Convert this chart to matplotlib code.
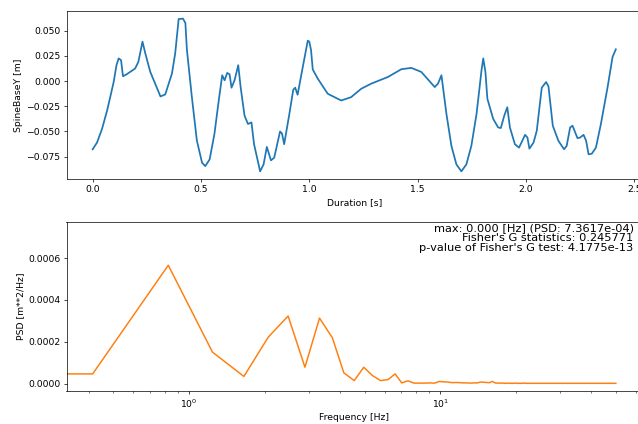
import numpy as np
import matplotlib
matplotlib.use("Agg")
import matplotlib.pyplot as plt
from matplotlib.ticker import MultipleLocator

# SpineBaseY (time [s], value [m])
time_s = [0.0, 0.02, 0.043, 0.067, 0.097, 0.110, 0.120, 0.131, 0.140, 0.157,
          0.196, 0.211, 0.230, 0.243, 0.266, 0.313, 0.335, 0.366, 0.381, 0.397,
          0.417, 0.428, 0.435, 0.458, 0.481, 0.505, 0.520, 0.540, 0.562, 0.582,
          0.598, 0.609, 0.621, 0.632, 0.641, 0.655, 0.672, 0.683, 0.701, 0.717,
          0.733, 0.745, 0.773, 0.789, 0.804, 0.823, 0.838, 0.865, 0.874, 0.884,
          0.908, 0.926, 0.935, 0.946, 0.970, 0.993, 1.0, 1.008, 1.016, 1.039,
          1.085, 1.147, 1.193, 1.240, 1.286, 1.363, 1.425, 1.471, 1.517, 1.579,
          1.594, 1.610, 1.633, 1.656, 1.679, 1.702, 1.725, 1.748, 1.772, 1.795,
          1.803, 1.813, 1.822, 1.849, 1.872, 1.884, 1.900, 1.914, 1.926, 1.949,
          1.968, 1.983, 1.996, 2.007, 2.016, 2.035, 2.050, 2.073, 2.093, 2.104,
          2.124, 2.150, 2.176, 2.188, 2.204, 2.215, 2.238, 2.250, 2.266, 2.278,
          2.289, 2.304, 2.323, 2.346, 2.377, 2.400, 2.415]
spine_y = [-0.0676, -0.061, -0.0476, -0.029, -0.001, 0.0157, 0.0224, 0.0207, 0.0047, 0.0067,
           0.0124, 0.019, 0.039, 0.0274, 0.009, -0.0153, -0.0133, 0.0074, 0.0274, 0.0614,
           0.0618, 0.0574, 0.031, -0.016, -0.059, -0.081, -0.0843, -0.0776, -0.0526, -0.0193,
           0.0057, 0.0007, 0.008, 0.0067, -0.0066, 0.0007, 0.0157, -0.006, -0.0343, -0.0426,
           -0.041, -0.0626, -0.0895, -0.0826, -0.0653, -0.0786, -0.076, -0.050, -0.052, -0.0626,
           -0.0326, -0.0086, -0.0066, -0.0136, 0.014, 0.040, 0.039, 0.0307, 0.0114, 0.0024,
           -0.0126, -0.0193, -0.016, -0.0076, -0.0026, 0.004, 0.0117, 0.013, 0.009, -0.006,
           -0.0026, 0.0057, -0.0326, -0.0643, -0.0826, -0.0895, -0.0826, -0.0643, -0.0326, 0.0107,
           0.0224, 0.009, -0.0176, -0.0376, -0.046, -0.0466, -0.0343, -0.026, -0.046, -0.0626,
           -0.066, -0.0593, -0.0533, -0.056, -0.067, -0.061, -0.0493, -0.0066, -0.001, -0.0053,
           -0.0443, -0.0593, -0.0676, -0.0643, -0.046, -0.0443, -0.0566, -0.056, -0.0533, -0.0593,
           -0.0726, -0.072, -0.066, -0.0426, -0.006, 0.024, 0.0314]

# PSD values, one per frequency bin (fs = 100 Hz, 242 samples)
psd = [7.3617e-04, 4.6e-05, 5.66e-04, 1.50e-04, 3.4e-05, 2.22e-04, 3.23e-04, 7.8e-05,
       3.13e-04, 2.19e-04, 5.1e-05, 1.4e-05, 7.8e-05, 3.8e-05, 1.4e-05, 1.9e-05,
       4.6e-05, 3e-06, 1.3e-05, 2e-06, 2e-06, 2e-06, 3e-06, 2e-06,
       1.0e-05, 8e-06, 7e-06, 4e-06, 5e-06, 4e-06, 3e-06, 3e-06,
       2e-06, 3e-06, 3e-06, 7e-06, 6e-06, 5e-06, 4e-06, 1.0e-05,
       3e-06, 2e-06, 2e-06, 2e-06, 1e-06, 2e-06, 1e-06, 1e-06,
       2e-06, 1e-06, 1e-06, 1e-06, 2e-06, 1e-06, 1e-06, 1e-06,
       1e-06, 1e-06, 1e-06, 1e-06, 1e-06, 1e-06, 1e-06, 1e-06,
       1e-06, 1e-06, 1e-06, 1e-06, 1e-06, 1e-06, 1e-06, 1e-06,
       1e-06, 1e-06, 1e-06, 1e-06, 1e-06, 1e-06, 1e-06, 1e-06,
       1e-06, 1e-06, 1e-06, 1e-06, 1e-06, 1e-06, 1e-06, 1e-06,
       1e-06, 1e-06, 1e-06, 1e-06, 1e-06, 1e-06, 1e-06, 1e-06,
       1e-06, 1e-06, 1e-06, 1e-06, 1e-06, 1e-06, 1e-06, 1e-06,
       1e-06, 1e-06, 1e-06, 1e-06, 1e-06, 1e-06, 1e-06, 1e-06,
       1e-06, 1e-06, 1e-06, 1e-06, 1e-06, 1e-06, 1e-06, 1e-06,
       1e-06, 1e-06]
freqs = np.fft.rfftfreq(242, d=0.01)

info_lines = ["max: 0.000 [Hz] (PSD: 7.3617e-04)",
              "Fisher's G statistics: 0.245771",
              "p-value of Fisher's G test: 4.1775e-13"]

DPI = 63
plt.rcParams["font.size"] = 10.6
fig = plt.figure(figsize=(638 / DPI, 424 / DPI), dpi=DPI)

# top: signal
ax1 = fig.add_axes([66.5 / 638, 1 - 179 / 424, 575.5 / 638, 168 / 424])
ax1.plot(time_s, spine_y, color="C0", lw=2.0)
ax1.yaxis.set_major_locator(MultipleLocator(0.025))
ax1.set_xlabel("Duration [s]")
ax1.set_ylabel("SpineBaseY [m]")

# bottom: PSD
ax2 = fig.add_axes([66.5 / 638, 1 - 391 / 424, 575.5 / 638, 169 / 424])
ax2.semilogx(freqs, psd, color="C1", lw=1.7)
ax2.yaxis.set_major_locator(MultipleLocator(0.0002))
ax2.set_xlabel("Frequency [Hz]")
ax2.set_ylabel("PSD [m**2/Hz]")

fig.text(633.5 / 638, 1 - 223 / 424, "\n".join(info_lines), ha="right", va="top",
         fontsize=13, linespacing=1.0)

fig.savefig("out.png", dpi=DPI)
